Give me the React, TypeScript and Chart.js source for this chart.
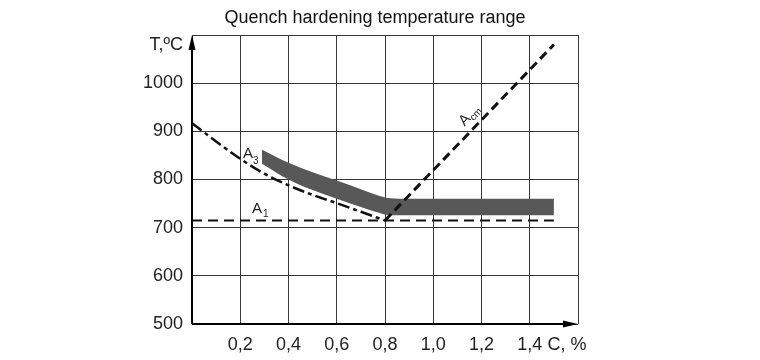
import React, { useEffect, useRef } from "react";
import { Chart, registerables } from "chart.js";

Chart.register(...registerables);

const title = "Quench hardening temperature range";
const yAxisLabel = "T,ºC";
const xAxisLabel = "C, %";

// A1 line (horizontal)
const a1X = [0, 1.5];
const a1T = [715, 715];

// A3 line (dash-dot curve)
const a3X = [0, 0.1, 0.2, 0.3, 0.4, 0.5, 0.6, 0.7, 0.8];
const a3T = [917, 879, 843, 812, 788, 768, 751, 733, 715];

// Acm line
const acmX = [0.8, 1.5];
const acmT = [715, 1080];

// Quench hardening band
const bandX = [0.29, 0.4, 0.5, 0.6, 0.7, 0.76, 0.82, 0.9, 1.5];
const bandLow = [833, 800, 778, 760, 743, 733, 726, 726, 726];
const bandHigh = [862, 835, 815, 798, 780, 769, 761, 760, 760];

const xTicks = [0.2, 0.4, 0.6, 0.8, 1.0, 1.2, 1.4];
const yTicks = [500, 600, 700, 800, 900, 1000];

const FONT = 'Arial, "Liberation Sans", sans-serif';

const pts = (xs: number[], ys: number[]) => xs.map((x, i) => ({ x, y: ys[i] }));

const overlay = {
  id: "overlay",
  afterDraw(chart: any) {
    const { ctx, chartArea: a, scales } = chart;
    const xs = scales.x;
    const ys = scales.y;
    ctx.save();
    // title
    ctx.fillStyle = "#111";
    ctx.font = `18px ${FONT}`;
    ctx.textAlign = "center";
    ctx.textBaseline = "middle";
    ctx.fillText(title, 375, 18);

    // axes
    ctx.strokeStyle = "#000";
    ctx.fillStyle = "#000";
    ctx.lineWidth = 2;
    ctx.beginPath();
    ctx.moveTo(a.left, a.bottom);
    ctx.lineTo(a.left, a.top + 8);
    ctx.moveTo(a.left, a.bottom);
    ctx.lineTo(a.right - 8, a.bottom);
    ctx.stroke();
    ctx.beginPath();
    ctx.moveTo(a.left, a.top);
    ctx.lineTo(a.left - 3.5, a.top + 15);
    ctx.lineTo(a.left + 3.5, a.top + 15);
    ctx.closePath();
    ctx.fill();
    ctx.beginPath();
    ctx.moveTo(a.right, a.bottom);
    ctx.lineTo(a.right - 15, a.bottom - 3.5);
    ctx.lineTo(a.right - 15, a.bottom + 3.5);
    ctx.closePath();
    ctx.fill();

    // axis labels
    ctx.fillStyle = "#222";
    ctx.font = `18px ${FONT}`;
    ctx.textAlign = "right";
    ctx.fillText(yAxisLabel, a.left - 9, 45);
    ctx.textAlign = "center";
    ctx.fillText(xAxisLabel, 567, 345);

    // line labels
    ctx.fillStyle = "#222";
    ctx.textAlign = "left";
    ctx.textBaseline = "alphabetic";
    // A3
    ctx.font = `15px ${FONT}`;
    ctx.fillText("A", 243, 158);
    ctx.font = `10px ${FONT}`;
    ctx.fillText("3", 253, 164);
    // A1
    ctx.font = `15px ${FONT}`;
    ctx.fillText("A", 252, 213);
    ctx.font = `10px ${FONT}`;
    ctx.fillText("1", 263, 217);
    // Acm rotated
    const px = xs.getPixelForValue(1.13);
    const py = ys.getPixelForValue(910);
    ctx.translate(px, py);
    ctx.rotate(-Math.PI * 0.26);
    ctx.font = `15px ${FONT}`;
    ctx.fillText("A", 0, 0);
    ctx.font = `10px ${FONT}`;
    ctx.fillText("cm", 10, 3);
    ctx.restore();
  },
};

export default function App() {
  const ref = useRef<HTMLCanvasElement | null>(null);
  useEffect(() => {
    if (!ref.current) return;
    const chart = new Chart(ref.current, {
      type: "line",
      data: {
        datasets: [
          {
            label: "A1",
            data: pts(a1X, a1T),
            borderColor: "#111",
            borderWidth: 2,
            borderDash: [10, 6],
            pointRadius: 0,
            fill: false,
          },
          {
            label: "A3",
            data: pts(a3X, a3T),
            borderColor: "#111",
            borderWidth: 2.5,
            borderDash: [12, 4, 4, 4],
            pointRadius: 0,
            cubicInterpolationMode: "monotone",
            fill: false,
          },
          {
            label: "Acm",
            data: pts(acmX, acmT),
            borderColor: "#111",
            borderWidth: 3,
            borderDash: [9, 5],
            pointRadius: 0,
            fill: false,
          },
          {
            label: "band low",
            data: pts(bandX, bandLow),
            borderWidth: 0,
            borderColor: "rgba(0,0,0,0)",
            pointRadius: 0,
            cubicInterpolationMode: "monotone",
            fill: false,
          },
          {
            label: "band high",
            data: pts(bandX, bandHigh),
            borderWidth: 0,
            borderColor: "rgba(0,0,0,0)",
            backgroundColor: "#585858",
            pointRadius: 0,
            cubicInterpolationMode: "monotone",
            fill: "-1",
          },
        ],
      },
      options: {
        responsive: false,
        animation: false,
        layout: { padding: { left: 0, right: 182, top: 35, bottom: 0 } },
        plugins: { legend: { display: false }, tooltip: { enabled: false }, title: { display: false } },
        scales: {
          x: {
            type: "linear",
            min: 0,
            max: 1.6,
            afterBuildTicks: (s: any) => {
              s.ticks = [0, ...xTicks, 1.6].map((v) => ({ value: v }));
            },
            afterFit: (s: any) => {
              s.height = 36;
            },
            ticks: {
              color: "#222",
              font: { size: 18, family: FONT },
              padding: 10,
              maxRotation: 0,
              autoSkip: false,
              callback: (v: any) => {
                const n = Number(v);
                return xTicks.some((t) => Math.abs(t - n) < 1e-6) ? n.toFixed(1).replace(".", ",") : "";
              },
            },
            grid: { color: "#383838", lineWidth: 1, drawTicks: false },
            border: { display: false },
          },
          y: {
            type: "linear",
            min: 500,
            max: 1100,
            afterBuildTicks: (s: any) => {
              s.ticks = [...yTicks, 1100].map((v) => ({ value: v }));
            },
            afterFit: (s: any) => {
              s.width = 192;
            },
            ticks: {
              color: "#222",
              font: { size: 18, family: FONT },
              padding: 9,
              autoSkip: false,
              callback: (v: any) => (yTicks.includes(Number(v)) ? String(v) : ""),
            },
            grid: { color: "#383838", lineWidth: 1, drawTicks: false },
            border: { display: false },
          },
        },
      },
      plugins: [overlay],
    });
    return () => chart.destroy();
  }, []);
  return (
    <div style={{ position: "absolute", left: 0, top: 0, width: 760, height: 360, background: "#fff" }}>
      <canvas ref={ref} width={760} height={360} />
    </div>
  );
}
